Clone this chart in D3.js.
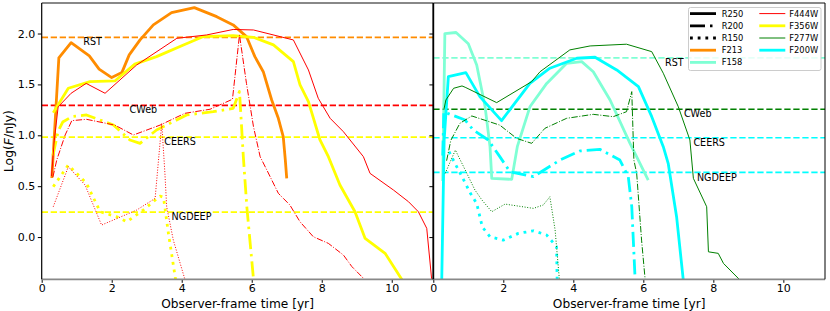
<!DOCTYPE html>
<html>
<head>
<meta charset="utf-8">
<script src="https://cdn.jsdelivr.net/npm/d3@7/dist/d3.min.js"></script>
<style>
    body { margin: 0; background: #fff; }
    text { font-family: "DejaVu Sans", sans-serif; }
</style>
</head>
<body>
<div id="vis-container"></div>
<script>

// ticks
const timeTicks = [0, 2, 4, 6, 8, 10];
const logTicks = [0.0, 0.5, 1.0, 1.5, 2.0];

// left panel curves, [observer-frame time (yr), log F (nJy)]
const f213_R250 = [[0.29, 0.58], [0.49, 1.76], [0.84, 1.91], [1.36, 1.78], [1.64, 1.65], [2.0, 1.567],
    [2.29, 1.616], [2.5, 1.79], [2.81, 1.937], [3.19, 2.085], [3.71, 2.205], [4.36, 2.255], [5.0, 2.166],
    [5.47, 2.085], [5.85, 1.97], [6.09, 1.773], [6.33, 1.625], [6.57, 1.347], [6.76, 1.167], [6.9, 0.986],
    [6.96, 0.757], [7.0, 0.577]];
const f356w_R250 = [[0.33, 1.222], [0.76, 1.462], [1.38, 1.527], [2.09, 1.534], [2.66, 1.70], [3.28, 1.773],
    [4.05, 1.888], [4.62, 1.97], [5.47, 1.98], [6.05, 1.963], [6.62, 1.888], [7.19, 1.724], [7.38, 1.495],
    [7.62, 1.33], [7.95, 0.954], [8.19, 0.79], [8.52, 0.511], [8.95, 0.249], [9.24, -0.013], [9.81, -0.16],
    [10.35, -0.45]];
const f444w_R250 = [[0.28, 0.6], [0.36, 0.95], [0.47, 1.28], [0.84, 1.413], [1.27, 1.51], [1.81, 1.413],
    [2.71, 1.69], [3.86, 1.953], [4.71, 1.986], [5.47, 2.04], [6.05, 2.035], [7.19, 1.937], [7.62, 1.642],
    [7.9, 1.364], [8.24, 1.167], [8.62, 1.035], [9.19, 0.79], [9.38, 0.626], [10.05, 0.462], [10.48, 0.347],
    [10.76, 0.249], [11.0, 0.086], [11.15, -0.45]];
const f356w_R200 = [[0.32, 0.8], [0.47, 1.04], [0.6, 1.13], [0.86, 1.183], [1.28, 1.2], [2.05, 1.101],
    [2.52, 0.954], [2.81, 0.921], [3.28, 1.052], [4.14, 1.2], [4.9, 1.232], [5.47, 1.265], [5.65, 1.43],
    [5.71, 1.085], [5.76, 0.79], [5.86, 0.298], [6.06, -0.45]];
const f444w_R200 = [[0.32, 0.59], [0.43, 0.757], [0.67, 1.003], [0.86, 1.144], [1.28, 1.157], [2.09, 1.10],
    [2.62, 1.003], [3.38, 1.10], [4.09, 1.216], [4.81, 1.256], [5.45, 1.354], [5.65, 1.986], [5.85, 1.51],
    [6.05, 1.085], [6.24, 0.79], [6.43, 0.66], [6.76, 0.43], [7.09, 0.315], [7.38, 0.15], [7.76, 0.003],
    [8.19, -0.062], [8.62, -0.177], [8.86, -0.29], [9.32, -0.45]];
const f356w_R150 = [[0.33, 0.495], [0.76, 0.708], [1.28, 0.528], [1.67, 0.249], [2.14, 0.2], [2.43, 0.15],
    [2.9, 0.265], [3.38, 0.403], [3.48, 0.39], [3.62, 0.036], [3.84, -0.45]];
const f444w_R150 = [[0.33, 0.298], [0.76, 0.691], [1.24, 0.511], [1.71, 0.118], [2.71, 0.265], [3.24, 0.38],
    [3.43, 1.118], [3.46, 0.95], [3.52, 0.626], [3.57, 0.298], [3.76, -0.03], [4.12, -0.45]];

// right panel curves
const f158_R250 = [[0.27, 0.55], [0.33, 2.0], [0.65, 2.01], [1.0, 1.9], [1.24, 1.69], [1.48, 1.28],
    [1.62, 0.888], [1.67, 0.577], [2.24, 0.567], [2.4, 0.888], [2.76, 1.28], [3.24, 1.51], [3.81, 1.707],
    [4.24, 1.724], [4.57, 1.625], [5.05, 1.347], [5.62, 0.921], [6.14, 0.56]];
const f200w_R250 = [[0.24, -0.45], [0.31, 0.954], [0.43, 1.576], [0.93, 1.616], [1.33, 1.38], [1.95, 1.144],
    [2.76, 1.51], [3.33, 1.659], [4.1, 1.757], [4.62, 1.767], [5.24, 1.642], [5.86, 1.478], [6.24, 1.183],
    [6.57, 0.888], [6.71, 0.725], [6.95, 0.2], [7.15, -0.45]];
const f277w_R250 = [[0.3, 1.25], [0.36, 1.347], [0.58, 1.462], [0.82, 1.485], [0.91, 1.472], [1.81, 1.321],
    [2.81, 1.527], [3.05, 1.625], [3.9, 1.839], [4.48, 1.878], [5.52, 1.895], [6.24, 1.822], [6.57, 1.61],
    [7.0, 1.28], [7.33, 0.954], [7.43, 0.577], [7.81, 0.298], [7.86, -0.145], [8.14, -0.16], [8.29, -0.259],
    [8.84, -0.45]];
const f200w_R200 = [[0.27, 0.8], [0.3, 1.23], [0.53, 1.2], [0.91, 1.15], [1.14, 1.052], [1.57, 0.954],
    [1.9, 0.79], [2.19, 0.642], [2.86, 0.593], [3.62, 0.757], [4.19, 0.846], [4.76, 0.862], [5.33, 0.757],
    [5.57, 0.593], [5.67, 0.298], [5.77, -0.45]];
const f277w_R200 = [[0.38, 0.75], [0.5, 0.95], [0.76, 1.118], [1.1, 1.19], [1.9, 1.10], [2.38, 0.97],
    [2.81, 0.921], [3.19, 1.069], [3.81, 1.167], [4.57, 1.206], [5.14, 1.183], [5.52, 1.232], [5.67, 1.429],
    [5.73, 0.757], [5.81, 0.626], [5.95, -0.03], [6.06, -0.45]];
const f200w_R150 = [[0.45, 0.84], [0.58, 0.75], [0.77, 0.626], [0.87, 0.56], [1.06, 0.43], [1.24, 0.33],
    [1.4, 0.1], [1.62, 0.003], [2.0, -0.03], [2.43, 0.036], [2.86, 0.062], [3.24, 0.02], [3.52, -0.095],
    [3.54, -0.45]];
const f277w_R150 = [[0.34, 0.626], [0.63, 0.855], [0.91, 0.66], [1.19, 0.462], [1.39, 0.364], [1.67, 0.249],
    [2.05, 0.324], [2.86, 0.282], [3.14, 0.315], [3.33, 0.396], [3.48, 0.069], [3.61, -0.45]];

// survey detection limits (log F) and where the survey names sit (time)
const surveys = ["RST", "CWeb", "CEERS", "NGDEEP"];
const leftLimits = [1.963, 1.295, 0.983, 0.246];
const leftLimitFilters = ["F213", "F444W", "F356W", "F356W"];
const leftLabelTimes = [1.19, 2.51, 3.5, 3.71];
const rightLimits = [1.76, 1.256, 0.976, 0.636];
const rightLimitFilters = ["F158", "F277W", "F200W", "F200W"];
const rightLabelTimes = [6.62, 7.16, 7.43, 7.53];

// legend
const legendRadii = ["R250", "R200", "R150"];
const legendCol1Filters = ["F213", "F158"];
const legendCol2Filters = ["F444W", "F356W", "F277W", "F200W"];

// styles
const filterColor = {
    F213: "#ff8c00", F158: "#7fffd4", F444W: "#ff0000",
    F356W: "#ffff00", F277W: "#008000", F200W: "#00ffff"
};
const filterWidth = { F213: 2.8, F158: 2.8, F444W: 1, F356W: 2.8, F277W: 1, F200W: 2.8 };

function dashFor(radius, lw) {
    if (radius === "R200") return lw > 2 ? "15,5,2.5,5" : "6.4,1.6,1,1.6";
    if (radius === "R150") return lw > 2 ? "2.8,4.9" : "1,1.65";
    return null;
}

const width = 830;
const height = 311;
const plotTop = 3;
const plotBottom = 279.3;
const panelLeft = [41.7, 433.3];
const panelWidth = 391.7;

const svg = d3.select("#vis-container")
    .append("svg")
    .attr("width", width)
    .attr("height", height)
    .attr("viewBox", [0, 0, width, height]);

const y = d3.scaleLinear()
    .domain([-0.415, 2.3])
    .range([plotBottom, plotTop]);

const line = (x) => d3.line()
    .x((d) => x(d[0]))
    .y((d) => y(d[1]));

const panels = [
    {
        curves: [
            { filter: "F213", radius: "R250", pts: f213_R250 },
            { filter: "F356W", radius: "R250", pts: f356w_R250 },
            { filter: "F356W", radius: "R200", pts: f356w_R200 },
            { filter: "F356W", radius: "R150", pts: f356w_R150 },
            { filter: "F444W", radius: "R250", pts: f444w_R250 },
            { filter: "F444W", radius: "R200", pts: f444w_R200 },
            { filter: "F444W", radius: "R150", pts: f444w_R150 }
        ],
        limits: leftLimits, limitFilters: leftLimitFilters, labelTimes: leftLabelTimes
    },
    {
        curves: [
            { filter: "F158", radius: "R250", pts: f158_R250 },
            { filter: "F200W", radius: "R250", pts: f200w_R250 },
            { filter: "F200W", radius: "R200", pts: f200w_R200 },
            { filter: "F200W", radius: "R150", pts: f200w_R150 },
            { filter: "F277W", radius: "R250", pts: f277w_R250 },
            { filter: "F277W", radius: "R200", pts: f277w_R200 },
            { filter: "F277W", radius: "R150", pts: f277w_R150 }
        ],
        limits: rightLimits, limitFilters: rightLimitFilters, labelTimes: rightLabelTimes
    }
];

panels.forEach((p, k) => {
    const x0 = panelLeft[k];
    const x = d3.scaleLinear()
        .domain([0, 11.19])
        .range([x0, x0 + panelWidth]);

    svg.append("clipPath")
        .attr("id", "clip" + k)
        .append("rect")
        .attr("x", x0)
        .attr("y", plotTop)
        .attr("width", panelWidth)
        .attr("height", plotBottom - plotTop);

    const g = svg.append("g").attr("clip-path", `url(#clip${k})`);

    // dashed survey limits
    g.selectAll("line.limit")
        .data(p.limits)
        .enter()
        .append("line")
        .attr("class", "limit")
        .attr("x1", x0)
        .attr("x2", x0 + panelWidth)
        .attr("y1", (d) => y(d))
        .attr("y2", (d) => y(d))
        .attr("stroke", (d, i) => filterColor[p.limitFilters[i]])
        .attr("stroke-width", 1.7)
        .attr("stroke-dasharray", "6.3,2.7");

    // light curves
    g.selectAll("path.curve")
        .data(p.curves)
        .enter()
        .append("path")
        .attr("class", "curve")
        .attr("d", (d) => line(x)(d.pts))
        .attr("fill", "none")
        .attr("stroke", (d) => filterColor[d.filter])
        .attr("stroke-width", (d) => filterWidth[d.filter])
        .attr("stroke-dasharray", (d) => dashFor(d.radius, filterWidth[d.filter]))
        .attr("stroke-linejoin", "round");

    // survey names
    svg.selectAll("text.survey" + k)
        .data(surveys)
        .enter()
        .append("text")
        .attr("class", "survey" + k)
        .attr("x", (d, i) => x(p.labelTimes[i]))
        .attr("y", (d, i) => y(p.limits[i]) + 8.2)
        .attr("font-size", "9.6px")
        .attr("fill", "black")
        .text((d) => d);

    // x axis
    svg.append("g")
        .attr("transform", `translate(0,${plotBottom})`)
        .call(d3.axisBottom(x).tickValues(timeTicks).tickFormat(d3.format("d")).tickSize(3.5).tickPadding(1.5))
        .call((a) => a.select(".domain").remove())
        .attr("font-size", "11px")
        .attr("font-family", "DejaVu Sans, sans-serif");

    svg.append("text")
        .attr("x", x0 + panelWidth / 2)
        .attr("y", 307.5)
        .attr("text-anchor", "middle")
        .attr("font-size", "12.2px")
        .text("Observer-frame time [yr]");

    // y axis (labels only on the left panel)
    svg.append("g")
        .attr("transform", `translate(${x0},0)`)
        .call(d3.axisLeft(y).tickValues(logTicks)
            .tickFormat(k === 0 ? d3.format(".1f") : () => "")
            .tickSize(3.9).tickPadding(2.5))
        .call((a) => a.select(".domain").remove())
        .attr("font-size", "11px")
        .attr("font-family", "DejaVu Sans, sans-serif");

    // frame
    svg.append("line").attr("x1", x0).attr("x2", x0 + panelWidth)
        .attr("y1", plotTop).attr("y2", plotTop)
        .attr("stroke", "#888").attr("stroke-width", 1.8);
    svg.append("line").attr("x1", x0).attr("x2", x0 + panelWidth)
        .attr("y1", plotBottom).attr("y2", plotBottom)
        .attr("stroke", "#888").attr("stroke-width", 1.8);
    svg.append("line").attr("x1", x0).attr("x2", x0)
        .attr("y1", plotTop).attr("y2", plotBottom)
        .attr("stroke", "black").attr("stroke-width", k === 0 ? 1.2 : 1.8);
    svg.append("line").attr("x1", x0 + panelWidth).attr("x2", x0 + panelWidth)
        .attr("y1", plotTop).attr("y2", plotBottom)
        .attr("stroke", "black").attr("stroke-width", 1);
});

// y label with italic F
const ylab = svg.append("text")
    .attr("transform", `translate(12.5,${(plotTop + plotBottom) / 2}) rotate(-90)`)
    .attr("text-anchor", "middle")
    .attr("font-size", "12.4px");
ylab.append("tspan").text("Log(");
ylab.append("tspan").attr("font-style", "italic").text("F");
ylab.append("tspan").text("/nJy)");

// legend
const legend = svg.append("g");
legend.append("rect")
    .attr("x", 688.5)
    .attr("y", 7.5)
    .attr("width", 132.5)
    .attr("height", 63)
    .attr("rx", 2)
    .attr("fill", "white")
    .attr("fill-opacity", 0.8)
    .attr("stroke", "#cccccc")
    .attr("stroke-width", 1);

const rowY = (i) => 13.6 + i * 12.2;

const col1 = legendRadii.map((r) => ({ name: r, color: "black", lw: 2.8, dash: dashFor(r, 2.8) }))
    .concat(legendCol1Filters.map((f) => ({ name: f, color: filterColor[f], lw: filterWidth[f], dash: null })));
const col2 = legendCol2Filters.map((f) => ({ name: f, color: filterColor[f], lw: filterWidth[f], dash: null }));

[[col1, 690, 721.7], [col2, 759.3, 789.3]].forEach(([items, hx, tx]) => {
    items.forEach((d, i) => {
        legend.append("line")
            .attr("x1", hx)
            .attr("x2", hx + 26)
            .attr("y1", rowY(i))
            .attr("y2", rowY(i))
            .attr("stroke", d.color)
            .attr("stroke-width", d.lw)
            .attr("stroke-dasharray", d.dash);
        legend.append("text")
            .attr("x", tx)
            .attr("y", rowY(i) + 3)
            .attr("font-size", "8.3px")
            .text(d.name);
    });
});

</script>
</body>
</html>
